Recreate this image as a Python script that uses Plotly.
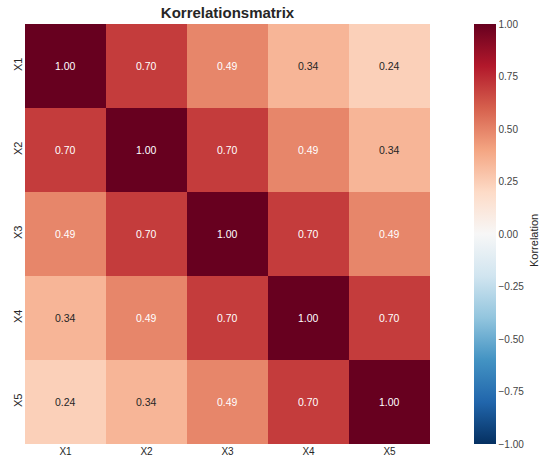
import plotly.graph_objects as go

# Correlation matrix of five variables
labels = ["X1", "X2", "X3", "X4", "X5"]
corr = [
    [1.00, 0.70, 0.49, 0.34, 0.24],
    [0.70, 1.00, 0.70, 0.49, 0.34],
    [0.49, 0.70, 1.00, 0.70, 0.49],
    [0.34, 0.49, 0.70, 1.00, 0.70],
    [0.24, 0.34, 0.49, 0.70, 1.00],
]
cbar_ticks = [-1.0, -0.75, -0.5, -0.25, 0.0, 0.25, 0.5, 0.75, 1.0]
cbar_title = "Korrelation"

# ColorBrewer RdBu, reversed (blue = -1, dark red = +1)
rdbu = ["#053061", "#2166ac", "#4393c3", "#92c5de", "#d1e5f0", "#f7f7f7",
        "#fddbc7", "#f4a582", "#d6604d", "#b2182b", "#67001f"]
colorscale = [[i / (len(rdbu) - 1), c] for i, c in enumerate(rdbu)]

FONT = "Liberation Sans, Arial, sans-serif"
INK = "#262626"

W, H = 540, 457
L, R, T, B = 25, 110, 24, 13
plot_w, plot_h = W - L - R, H - T - B

fig = go.Figure(go.Heatmap(
    z=corr, x=labels, y=labels,
    zmin=-1, zmax=1, colorscale=colorscale,
    colorbar=dict(
        tickvals=cbar_ticks, tickformat=".2f",
        tickfont=dict(size=10, family=FONT, color="#444"),
        thickness=22, thicknessmode="pixels",
        len=1, lenmode="fraction", y=0.5, yanchor="middle",
        x=474 / W, xanchor="left", xref="container",
        outlinewidth=0, ticks="", ticklen=0, xpad=0, ypad=0,
    ),
))

# Value labels in each cell; light text on strong colours
annotations = []
for i, row in enumerate(corr):
    for j, v in enumerate(row):
        annotations.append(dict(
            x=labels[j], y=labels[i], text=f"{v:.2f}", showarrow=False,
            font=dict(size=10.5, family=FONT,
                      color="white" if abs(v) >= 0.45 else INK),
        ))

# Colorbar label, rotated, at the right edge
annotations.append(dict(
    text=cbar_title, textangle=-90, showarrow=False,
    xref="paper", yref="paper",
    x=(534 - L) / plot_w, y=(H - B - 241) / plot_h,
    xanchor="center", yanchor="middle",
    font=dict(size=11, family=FONT, color=INK),
))

fig.update_layout(
    width=W, height=H,
    margin=dict(l=L, r=R, t=T, b=B),
    paper_bgcolor="white", plot_bgcolor="white",
    title=dict(text="<b>Korrelationsmatrix</b>", x=(L + plot_w / 2) / W, xanchor="center",
               y=1 - 13 / H, yanchor="middle",
               font=dict(size=15, family=FONT, color=INK)),
    annotations=annotations,
    xaxis=dict(showgrid=False, zeroline=False, ticks="", automargin=False,
               tickfont=dict(size=10, family=FONT, color=INK), ticklabelstandoff=0),
    yaxis=dict(showgrid=False, zeroline=False, ticks="", automargin=False,
               autorange="reversed", tickangle=-90,
               tickfont=dict(size=11, family=FONT, color=INK)),
)

fig.write_html("out.html")
